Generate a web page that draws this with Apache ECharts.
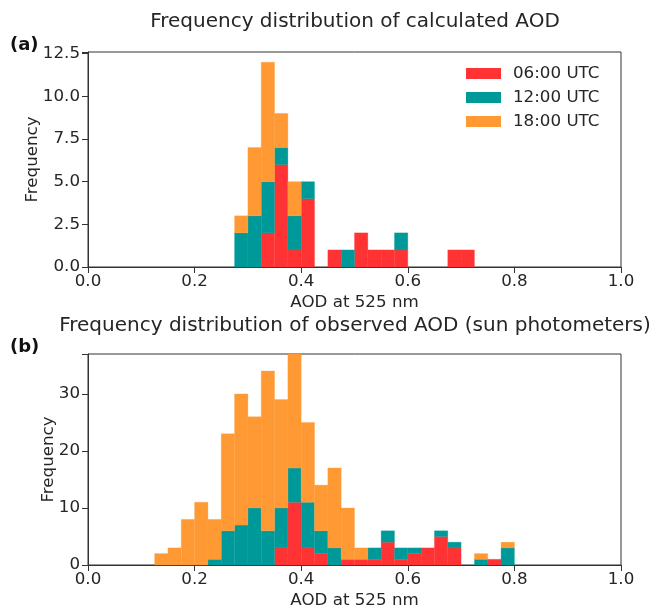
<!DOCTYPE html>
<html>
<head>
<meta charset="utf-8">
<script src="https://cdn.jsdelivr.net/npm/echarts@6/dist/echarts.min.js"></script>
<style>
html,body{margin:0;padding:0;background:#fff;}
#chart{width:658px;height:610px;}
</style>
</head>
<body>
<div id="chart"></div>
<script>
// ---- Data ----
var seriesNames = ['06:00 UTC', '12:00 UTC', '18:00 UTC'];
var xTicks = [0.0, 0.2, 0.4, 0.6, 0.8, 1.0];

// (a) calculated AOD: bin left edges and right edges
var binLeftA  = [0.275, 0.300, 0.325, 0.350, 0.375, 0.400, 0.425, 0.450, 0.475, 0.500, 0.525, 0.550, 0.575, 0.600, 0.625, 0.650, 0.675, 0.700];
var binRightA = [0.300, 0.325, 0.350, 0.375, 0.400, 0.425, 0.450, 0.475, 0.500, 0.525, 0.550, 0.575, 0.600, 0.625, 0.650, 0.675, 0.700, 0.725];
var calc06 = [0, 0, 2, 6, 1, 4, 0, 1, 0, 2, 1, 1, 1, 0, 0, 0, 1, 1];
var calc12 = [2, 3, 3, 1, 2, 1, 0, 0, 1, 0, 0, 0, 1, 0, 0, 0, 0, 0];
var calc18 = [1, 4, 7, 2, 2, 0, 0, 0, 0, 0, 0, 0, 0, 0, 0, 0, 0, 0];
var yTicksA = [0, 2.5, 5, 7.5, 10, 12.5];

// (b) observed AOD (sun photometers)
var binLeftB  = [0.125, 0.150, 0.175, 0.200, 0.225, 0.250, 0.275, 0.300, 0.325, 0.350, 0.375, 0.400, 0.425, 0.450, 0.475, 0.500, 0.525, 0.550, 0.575, 0.600, 0.625, 0.650, 0.675, 0.700, 0.725, 0.750, 0.775];
var binRightB = [0.150, 0.175, 0.200, 0.225, 0.250, 0.275, 0.300, 0.325, 0.350, 0.375, 0.400, 0.425, 0.450, 0.475, 0.500, 0.525, 0.550, 0.575, 0.600, 0.625, 0.650, 0.675, 0.700, 0.725, 0.750, 0.775, 0.800];
var obs06 = [0, 0, 0, 0, 0, 0, 0, 0, 0, 3, 11, 3, 2, 0, 1, 1, 1, 4, 1, 2, 3, 5, 3, 0, 0, 1, 0];
var obs12 = [0, 0, 0, 0, 1, 6, 7, 10, 6, 7, 6, 8, 4, 3, 0, 0, 2, 2, 2, 1, 0, 1, 1, 0, 1, 0, 3];
var obs18 = [2, 3, 8, 11, 7, 17, 23, 16, 28, 19, 20, 14, 8, 14, 9, 2, 0, 0, 0, 0, 0, 0, 0, 0, 1, 0, 1];
var yTicksB = [0, 10, 20, 30];

var colors = ['#ff3333', '#009999', '#ff9933'];
var textColor = '#262626';
var FONT = 'DejaVu Sans';

// ---- build stacked rectangles (bottom/top computed by stacking the counts) ----
function stackedSeries(left, right, layers, gridIdx) {
  var base = left.map(function () { return 0; });
  var out = [];
  layers.forEach(function (vals, k) {
    var data = [];
    for (var i = 0; i < left.length; i++) {
      var lo = base[i], hi = base[i] + vals[i];
      if (vals[i] > 0) data.push([left[i], right[i], lo, hi]);
      base[i] = hi;
    }
    out.push({
      type: 'custom',
      name: seriesNames[k],
      xAxisIndex: gridIdx,
      yAxisIndex: gridIdx,
      itemStyle: { color: colors[k] },
      encode: { x: [0, 1], y: [2, 3] },
      data: data,
      renderItem: function (params, api) {
        var p0 = api.coord([api.value(0), api.value(2)]);
        var p1 = api.coord([api.value(1), api.value(3)]);
        return {
          type: 'rect',
          shape: { x: p0[0], y: p1[1], width: p1[0] - p0[0], height: p0[1] - p1[1] },
          style: { fill: colors[k], stroke: colors[k], lineWidth: 0.3 }
        };
      }
    });
  });
  return out;
}

function xAxisCfg(gridIdx) {
  return {
    type: 'value', gridIndex: gridIdx,
    min: xTicks[0], max: xTicks[xTicks.length - 1], interval: xTicks[1] - xTicks[0],
    name: 'AOD at 525 nm', nameLocation: 'middle', nameGap: 27, nameMoveOverlap: false,
    nameTextStyle: { fontFamily: FONT, fontSize: 16.7, color: textColor },
    axisLine: { show: true, onZero: false, lineStyle: { color: '#333', width: 1 } },
    axisTick: { show: true, length: 6, lineStyle: { color: '#333' } },
    axisLabel: { margin: 6, fontFamily: FONT, fontSize: 16.7, color: textColor,
      formatter: function (v) { return v.toFixed(1); } },
    splitLine: { show: false }
  };
}

function yAxisCfg(gridIdx, ticks, maxV, nameGap, fmt) {
  return {
    type: 'value', gridIndex: gridIdx,
    min: ticks[0], max: maxV, interval: ticks[1] - ticks[0],
    name: 'Frequency', nameLocation: 'middle', nameGap: nameGap, nameMoveOverlap: false,
    nameTextStyle: { fontFamily: FONT, fontSize: 16.7, color: textColor },
    axisLine: { show: true, lineStyle: { color: '#333', width: 1 } },
    axisTick: { show: true, length: 6, lineStyle: { color: '#333' } },
    axisLabel: { margin: 8, fontFamily: FONT, fontSize: 16.7, color: textColor,
      formatter: function (v) {
        for (var i = 0; i < ticks.length; i++) if (Math.abs(ticks[i] - v) < 1e-9) return fmt(v);
        return '';
      } },
    splitLine: { show: false }
  };
}

var chart = echarts.init(document.getElementById('chart'));
var option = {
  animation: false,
  backgroundColor: '#fff',
  textStyle: { fontFamily: FONT },
  graphic: [
    { type: 'text', x: 355, y: 22, style: { text: 'Frequency distribution of calculated AOD', fontFamily: FONT, fontSize: 20, fill: textColor, align: 'center', verticalAlign: 'middle' } },
    { type: 'text', x: 355, y: 326, style: { text: 'Frequency distribution of observed AOD (sun photometers)', fontFamily: FONT, fontSize: 20, fill: textColor, align: 'center', verticalAlign: 'middle' } },
    { type: 'text', x: 10, y: 45, style: { text: '(a)', fontFamily: FONT, fontWeight: 'bold', fontSize: 18, fill: '#111', align: 'left', verticalAlign: 'middle' } },
    { type: 'text', x: 10, y: 347, style: { text: '(b)', fontFamily: FONT, fontWeight: 'bold', fontSize: 18, fill: '#111', align: 'left', verticalAlign: 'middle' } }
  ],
  legend: {
    data: seriesNames,
    orient: 'vertical',
    left: 466, top: 65, padding: 0,
    itemWidth: 35, itemHeight: 11, itemGap: 7,
    icon: 'rect',
    textStyle: { fontFamily: FONT, fontSize: 16.7, color: textColor, lineHeight: 17, padding: [0, 0, 0, 7] }
  },
  grid: [
    { left: 88, right: 37, top: 52, height: 215, show: true, borderColor: '#333', borderWidth: 1, backgroundColor: 'transparent' },
    { left: 88, right: 37, top: 354, height: 216, show: true, borderColor: '#333', borderWidth: 1, backgroundColor: 'transparent' }
  ],
  xAxis: [xAxisCfg(0), xAxisCfg(1)],
  yAxis: [
    yAxisCfg(0, yTicksA, 12.6, 47, function (v) { return v.toFixed(1); }),
    yAxisCfg(1, yTicksB, 37, 31, function (v) { return String(v); })
  ],
  series: [].concat(
    stackedSeries(binLeftA, binRightA, [calc06, calc12, calc18], 0),
    stackedSeries(binLeftB, binRightB, [obs06, obs12, obs18], 1)
  )
};
chart.setOption(option);
</script>
</body>
</html>
